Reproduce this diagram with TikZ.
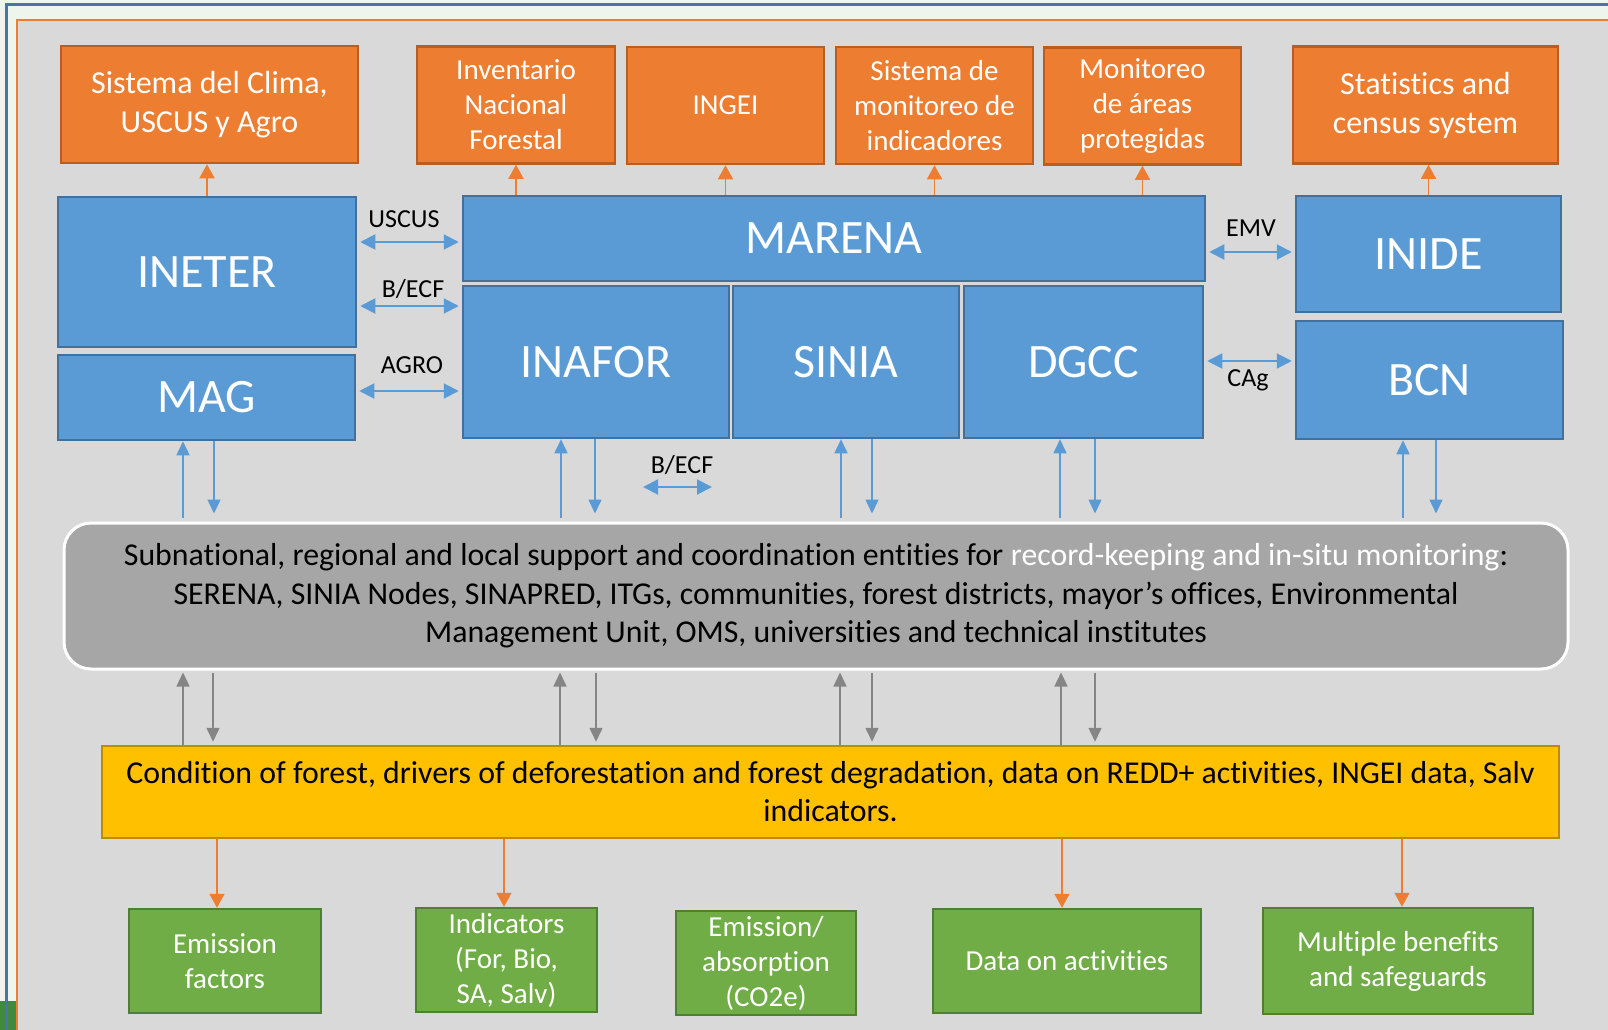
\documentclass[tikz,border=0pt]{standalone}
\usepackage{fontspec}
\setmainfont{Carlito}[Ligatures=NoCommon]
\usetikzlibrary{arrows.meta}
\definecolor{orangefill}{HTML}{ED7D31}
\definecolor{orangeline}{HTML}{B85E22}
\definecolor{bluefill}{HTML}{5B9BD5}
\definecolor{blueline}{HTML}{41719C}
\definecolor{greenfill}{HTML}{70AD47}
\definecolor{greenline}{HTML}{507E32}
\definecolor{yellowfill}{HTML}{FFC000}
\definecolor{yellowline}{HTML}{BC8C00}
\definecolor{panelgray}{HTML}{D9D9D9}
\definecolor{subgray}{HTML}{A6A6A6}
\definecolor{arrowgray}{HTML}{858585}
\definecolor{pale}{HTML}{EEF5EC}
\definecolor{framegreen}{HTML}{3F8B3B}
\definecolor{frameblue}{HTML}{4A74A8}

\tikzset{
  sysbox/.style={draw=orangeline, line width=2.5pt, fill=orangefill, text=white, align=center,
    inner sep=0pt, font=\fontsize{29}{35}\selectfont},
  instbox/.style={draw=blueline, line width=2.5pt, fill=bluefill, text=white, inner sep=0pt,
    font=\fontsize{48}{56}\selectfont},
  outbox/.style={draw=greenline, line width=2.5pt, fill=greenfill, text=white, align=center,
    inner sep=0pt, font=\fontsize{29}{35}\selectfont},
  subbox/.style={draw=white, line width=3pt, fill=subgray, rounded corners=27pt, align=center,
    inner sep=0pt, font=\fontsize{31.8}{38.5}\selectfont},
  condbox/.style={draw=yellowline, line width=2.5pt, fill=yellowfill, align=center,
    inner sep=0pt, font=\fontsize{31.8}{38}\selectfont},
  linklabel/.style={inner sep=0pt, font=\fontsize{26}{30}\selectfont},
  oup/.style={draw=orangefill, line width=1.5pt, -{Triangle[length=14pt,width=15pt]}},
  bpair/.style={draw=bluefill, line width=1.5pt, -{Triangle[length=14pt,width=13pt]}},
  gpair/.style={draw=arrowgray, line width=1.5pt, -{Triangle[length=14pt,width=13pt]}},
  blink/.style={draw=bluefill, line width=2pt, shorten <=3pt, shorten >=3pt,
    {Triangle[length=15pt,width=15pt]}-{Triangle[length=15pt,width=15pt]}}
}

\begin{document}
\begin{tikzpicture}[x=1pt, y=-1pt]
\useasboundingbox (0,0) rectangle (1608,1030);
\fill[pale] (0,0) rectangle (1608,1030);
\fill[framegreen] (0,1001) rectangle (17,1030);
\draw[frameblue, line width=3pt] (6,1030) -- (6,5) -- (1608,5);
\fill[panelgray] (17,20) rectangle (1608,1030);
\draw[orangefill, line width=1.5pt] (17,1030) -- (17,20) -- (1608,20);

\node[sysbox, minimum width=297pt, minimum height=117pt, font=\fontsize{32}{39}\selectfont] (clima) at (209.5,104.5) {Sistema del Clima,\\USCUS y Agro};
\node[sysbox, minimum width=198pt, minimum height=117pt] (inventario) at (516,105) {Inventario\\Nacional\\Forestal};
\node[sysbox, minimum width=197pt, minimum height=117pt] (ingei) at (725.5,105.5) {INGEI};
\node[sysbox, minimum width=197pt, minimum height=117pt] (sismon) at (934.5,105.5) {Sistema de\\monitoreo de\\indicadores};
\node[sysbox, minimum width=197pt, minimum height=117pt] (areas) at (1142.5,106) {Monitoreo\\de áreas\\protegidas};
\node[sysbox, minimum width=265pt, minimum height=117pt, font=\fontsize{32}{39}\selectfont] (stats) at (1425.5,105) {Statistics and\\census system};

\node[instbox, minimum width=298pt, minimum height=150pt] (ineter) at (207,272) {INETER};
\node[instbox, minimum width=297pt, minimum height=85pt] (mag) at (206.5,397.5) {MAG};
\node[instbox, minimum width=742pt, minimum height=85pt] (marena) at (834,238.5) {MARENA};
\node[instbox, minimum width=266pt, minimum height=152pt] (inafor) at (596,362) {INAFOR};
\node[instbox, minimum width=226pt, minimum height=152pt] (sinia) at (846,362) {SINIA};
\node[instbox, minimum width=239pt, minimum height=152pt] (dgcc) at (1083.5,362) {DGCC};
\node[instbox, minimum width=265pt, minimum height=116pt] (inide) at (1428.5,254) {INIDE};
\node[instbox, minimum width=267pt, minimum height=118pt] (bcn) at (1429.5,380) {BCN};

\node[subbox, minimum width=1504pt, minimum height=146pt] (sub) at (816,596) {Subnational, regional and local support and coordination entities for \textcolor{white}{record-keeping and in-situ monitoring}:\\SERENA, SINIA Nodes, SINAPRED, ITGs, communities, forest districts, mayor’s offices, Environmental\\Management Unit, OMS, universities and technical institutes};
\node[condbox, minimum width=1457pt, minimum height=92pt] (cond) at (830.5,792) {Condition of forest, drivers of deforestation and forest degradation, data on REDD+ activities, INGEI data, Salv\\indicators.};

\node[outbox, minimum width=192pt, minimum height=104pt] (ef) at (225,961) {Emission\\factors};
\node[outbox, minimum width=181pt, minimum height=104pt] (ind) at (506.5,960) {Indicators\\(For, Bio,\\SA, Salv)};
\node[outbox, minimum width=180pt, minimum height=104pt] (emabs) at (766,963) {Emission/\\absorption\\(CO2e)};
\node[outbox, minimum width=268pt, minimum height=104pt] (act) at (1067,961) {Data on activities};
\node[outbox, minimum width=270pt, minimum height=106pt] (mb) at (1398,961) {Multiple benefits\\and safeguards};

\node[linklabel] (uscus) at (404,219) {USCUS};
\node[linklabel] (becfa) at (413,289) {B/ECF};
\node[linklabel] (agro) at (412,365) {AGRO};
\node[linklabel] (emv) at (1251,228) {EMV};
\node[linklabel] (cag) at (1248,380) {CAg};
\node[linklabel] (becfb) at (682,465) {B/ECF};
\coordinate (becfl) at (640,487);
\coordinate (becfr) at (715,487);

\draw[oup] (ineter.north) -- (ineter.north |- clima.south);
\foreach \tgt in {inventario, ingei, sismon, areas}
  \draw[oup] (marena.north -| \tgt.south) -- (\tgt.south);
\draw[oup] (inide.north) -- (inide.north |- stats.south);

\draw[blink] (ineter.east |- 0,242) -- (marena.west |- 0,242);
\draw[blink] (ineter.east |- 0,306) -- (inafor.west |- 0,306);
\draw[blink] (mag.east |- 0,391) -- (inafor.west |- 0,391);
\draw[blink] (marena.east |- 0,252) -- (inide.west |- 0,252);
\draw[blink] (dgcc.east |- 0,361) -- (bcn.west |- 0,361);
\draw[blink] (becfl) -- (becfr);

\foreach \src/\ux/\dx in {mag/183/214, inafor/561/595, sinia/841/872, dgcc/1060/1095, bcn/1403/1436} {
  \draw[bpair, shorten <=4pt] (sub.north -| \ux,0) -- (\src.south -| \ux,0);
  \draw[bpair, shorten >=8pt] (\src.south -| \dx,0) -- (sub.north -| \dx,0);
}
\foreach \ux/\dx in {183/213, 560/596, 840/872, 1061/1095} {
  \draw[gpair, shorten >=2pt] (cond.north -| \ux,0) -- (sub.south -| \ux,0);
  \draw[gpair, shorten <=2pt, shorten >=3pt] (sub.south -| \dx,0) -- (cond.north -| \dx,0);
}
\foreach \tgt/\x in {ef/217, ind/504, act/1062, mb/1402}
  \draw[oup] (cond.south -| \x,0) -- (\tgt.north -| \x,0);
\end{tikzpicture}
\end{document}
